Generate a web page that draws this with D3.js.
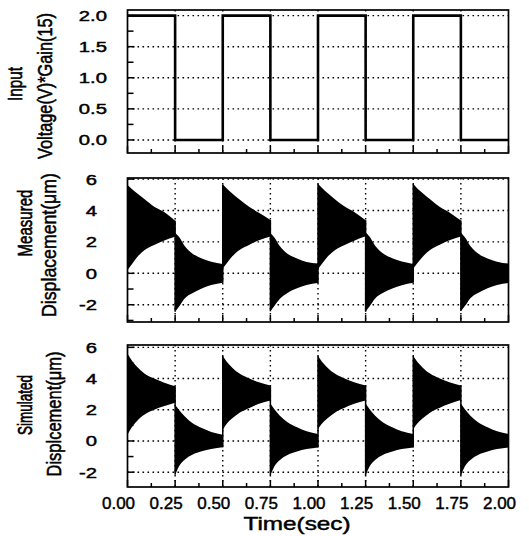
<!DOCTYPE html>
<html lang="en">
<head>
<meta charset="UTF-8">
<script src="https://cdnjs.cloudflare.com/ajax/libs/d3/7.8.5/d3.min.js"></script>
<title>Input and displacement</title>
<style>
    body { margin: 0; background: #fff; }
    svg text { font-family: "Liberation Sans", Arial, sans-serif; fill: #000; stroke: #000; stroke-width: 0.45px; }
</style>
</head>
<body>
<svg id="chart" width="529" height="536"></svg>
<script>
// time axis
var timeTicks = [0, 0.25, 0.5, 0.75, 1.0, 1.25, 1.5, 1.75, 2.0];
var timeLabels = ["0.00", "0.25", "0.50", "0.75", "1.00", "1.25", "1.50", "1.75", "2.00"];

// input square wave (step after)
var inputT = [0, 0.25, 0.5, 0.75, 1.0, 1.25, 1.5, 1.75, 2.0];
var inputV = [2, 0, 2, 0, 2, 0, 2, 0, 0];
var inputTicks = [0, 0.5, 1.0, 1.5, 2.0];
var inputLabels = ["0.0", "0.5", "1.0", "1.5", "2.0"];

var dispTicks = [-2, 0, 2, 4, 6];
var dispLabels = ["-2", "0", "2", "4", "6"];

// envelope of the oscillation, read per quarter period
var segStart = [0, 0.25, 0.5, 0.75, 1.0, 1.25, 1.5, 1.75];
var envT = [0, 0.02, 0.05, 0.09, 0.14, 0.19, 0.25];

var measUpper = [
    [5.62, 5.40, 5.10, 4.71, 4.24, 3.92, 3.35],
    [2.59, 2.33, 1.74, 1.27, 0.95, 0.74, 0.59],
    [5.65, 5.42, 5.08, 4.68, 4.22, 3.85, 3.40],
    [2.55, 2.30, 1.72, 1.25, 0.94, 0.72, 0.62],
    [5.70, 5.45, 5.12, 4.70, 4.25, 3.90, 3.38],
    [2.60, 2.35, 1.76, 1.28, 0.96, 0.75, 0.60],
    [5.68, 5.42, 5.10, 4.70, 4.22, 3.88, 3.36],
    [2.58, 2.32, 1.74, 1.26, 0.95, 0.74, 0.62]
];
var measLower = [
    [0.20, 0.53, 1.02, 1.48, 1.80, 2.08, 2.33],
    [-2.45, -2.13, -1.60, -1.27, -0.96, -0.75, -0.60],
    [0.30, 0.62, 1.08, 1.50, 1.82, 2.10, 2.35],
    [-2.42, -2.10, -1.62, -1.25, -0.95, -0.74, -0.62],
    [0.28, 0.60, 1.05, 1.48, 1.80, 2.08, 2.36],
    [-2.45, -2.12, -1.60, -1.26, -0.97, -0.76, -0.60],
    [0.30, 0.62, 1.06, 1.50, 1.82, 2.10, 2.34],
    [-2.40, -2.10, -1.58, -1.25, -0.95, -0.75, -0.62]
];

var simUpper = [
    [5.60, 5.20, 4.75, 4.30, 4.00, 3.74, 3.50],
    [2.30, 2.00, 1.58, 1.15, 0.83, 0.58, 0.40],
    [5.45, 5.10, 4.70, 4.30, 4.00, 3.76, 3.55],
    [2.40, 2.05, 1.62, 1.20, 0.88, 0.62, 0.45],
    [5.45, 5.10, 4.70, 4.30, 4.00, 3.76, 3.56],
    [2.40, 2.05, 1.62, 1.20, 0.88, 0.62, 0.45],
    [5.45, 5.10, 4.70, 4.30, 4.00, 3.76, 3.55],
    [2.40, 2.05, 1.62, 1.20, 0.88, 0.62, 0.45]
];
var simLower = [
    [0.40, 0.83, 1.28, 1.69, 2.00, 2.22, 2.45],
    [-2.17, -1.63, -1.20, -0.88, -0.66, -0.52, -0.40],
    [0.72, 1.08, 1.45, 1.82, 2.12, 2.38, 2.60],
    [-2.20, -1.65, -1.22, -0.90, -0.68, -0.52, -0.42],
    [0.75, 1.10, 1.46, 1.83, 2.13, 2.38, 2.60],
    [-2.20, -1.65, -1.22, -0.90, -0.68, -0.52, -0.42],
    [0.75, 1.10, 1.46, 1.83, 2.13, 2.38, 2.62],
    [-2.20, -1.65, -1.22, -0.90, -0.68, -0.52, -0.42]
];

var svg = d3.select("#chart");
var left = 127.5, right = 508.5;
var x = d3.scaleLinear().domain([0, 2]).range([left, right]);

var panels = [
    { top: 10, bottom: 153, domain: [-0.21, 2.09], ticks: inputTicks, labels: inputLabels,
      minor: [0.25, 0.75, 1.25, 1.75], labelX: 107 },
    { top: 178, bottom: 322, domain: [-3.1, 6.07], ticks: dispTicks, labels: dispLabels,
      minor: [-3, -1, 1, 3, 5], labelX: 97, upper: measUpper, lower: measLower },
    { top: 345, bottom: 487, domain: [-2.95, 6.15], ticks: dispTicks, labels: dispLabels,
      minor: [-1, 1, 3, 5], labelX: 97, upper: simUpper, lower: simLower }
];

var minorT = [0.125, 0.375, 0.625, 0.875, 1.125, 1.375, 1.625, 1.875];

panels.forEach(function(p, pi) {
    var y = d3.scaleLinear().domain(p.domain).range([p.bottom, p.top]);
    var g = svg.append("g");

    // dotted grid
    g.selectAll(".hg").data(p.ticks).enter().append("line")
        .attr("x1", left).attr("x2", right)
        .attr("y1", d => y(d)).attr("y2", d => y(d))
        .attr("stroke", "#000").attr("stroke-width", 1.4)
        .attr("stroke-dasharray", "1.6,3.4");
    g.selectAll(".vg").data(timeTicks.slice(1, -1)).enter().append("line")
        .attr("x1", d => x(d)).attr("x2", d => x(d))
        .attr("y1", p.top).attr("y2", p.bottom)
        .attr("stroke", "#000").attr("stroke-width", 1.4)
        .attr("stroke-dasharray", "1.6,3.4");

    if (pi === 0) {
        var line = d3.line().curve(d3.curveStepAfter)
            .x((d, i) => x(inputT[i])).y(d => y(d));
        g.append("path").attr("d", line(inputV))
            .attr("fill", "none").attr("stroke", "#000").attr("stroke-width", 2.6);
    } else {
        var area = d3.area().curve(d3.curveMonotoneX)
            .x(d => x(d.t)).y0(d => y(d.lo)).y1(d => y(d.hi));
        segStart.forEach(function(s, si) {
            var pts = envT.map((dt, i) => ({ t: s + dt, hi: p.upper[si][i], lo: p.lower[si][i] }));
            g.append("path").attr("d", area(pts)).attr("fill", "#000");
            if (si > 0) {
                var prev = envT.length - 1;
                var vals = [p.upper[si - 1][prev], p.lower[si - 1][prev], p.upper[si][0], p.lower[si][0]];
                g.append("line")
                    .attr("x1", x(s)).attr("x2", x(s))
                    .attr("y1", y(d3.max(vals))).attr("y2", y(d3.min(vals)))
                    .attr("stroke", "#000").attr("stroke-width", 1.5);
            }
        });
    }

    // inward ticks
    g.selectAll(".yt").data(p.ticks).enter().append("line")
        .attr("x1", left).attr("x2", left + 7)
        .attr("y1", d => y(d)).attr("y2", d => y(d))
        .attr("stroke", "#000").attr("stroke-width", 1.5);
    g.selectAll(".ym").data(p.minor).enter().append("line")
        .attr("x1", left).attr("x2", left + 6)
        .attr("y1", d => y(d)).attr("y2", d => y(d))
        .attr("stroke", "#000").attr("stroke-width", 1.5);
    g.selectAll(".xt").data(timeTicks).enter().append("line")
        .attr("x1", d => x(d)).attr("x2", d => x(d))
        .attr("y1", p.bottom).attr("y2", p.bottom - 7)
        .attr("stroke", "#000").attr("stroke-width", 1.5);
    g.selectAll(".xm").data(minorT).enter().append("line")
        .attr("x1", d => x(d)).attr("x2", d => x(d))
        .attr("y1", p.bottom).attr("y2", p.bottom - 4)
        .attr("stroke", "#000").attr("stroke-width", 1.5);

    g.append("rect")
        .attr("x", left).attr("y", p.top)
        .attr("width", right - left).attr("height", p.bottom - p.top)
        .attr("fill", "none").attr("stroke", "#000").attr("stroke-width", 1.7);

    // y tick labels, stretched wide
    g.selectAll(".yl").data(p.ticks).enter().append("text")
        .attr("transform", d => "translate(" + p.labelX + "," + (y(d) + 5.5) + ") scale(1.35,1)")
        .attr("text-anchor", "end")
        .attr("font-size", 15)
        .text((d, i) => p.labels[i]);
});

// x tick labels under the last panel
svg.selectAll(".xl").data(timeTicks).enter().append("text")
    .attr("x", d => x(d) - 9).attr("y", 509)
    .attr("text-anchor", "middle").attr("font-size", 17)
    .text((d, i) => timeLabels[i]);

svg.append("text")
    .attr("transform", "translate(297,530) scale(1.35,1)")
    .attr("text-anchor", "middle").attr("font-size", 18)
    .text("Time(sec)");

// rotated axis titles, tall and narrow
var titles = [
    { text: "Input", x: 22, y: 84, len: 34 },
    { text: "Voltage(V)*Gain(15)", x: 52, y: 86, len: 146 },
    { text: "Measured", x: 32, y: 223, len: 67 },
    { text: "Displacement(\u03bcm)", x: 56, y: 245, len: 144 },
    { text: "Simulated", x: 32, y: 405, len: 60 },
    { text: "Displcement(\u03bcm)", x: 61, y: 414, len: 125 }
];
var glyph = 21;
titles.forEach(function(t) {
    var el = svg.append("text")
        .attr("text-anchor", "middle")
        .attr("font-size", glyph)
        .text(t.text);
    var r = t.len / el.node().getComputedTextLength();
    el.attr("font-size", glyph * r)
        .attr("transform", "translate(" + t.x + "," + t.y + ") rotate(-90) scale(1," + (1 / r) + ")");
});
</script>
</body>
</html>
